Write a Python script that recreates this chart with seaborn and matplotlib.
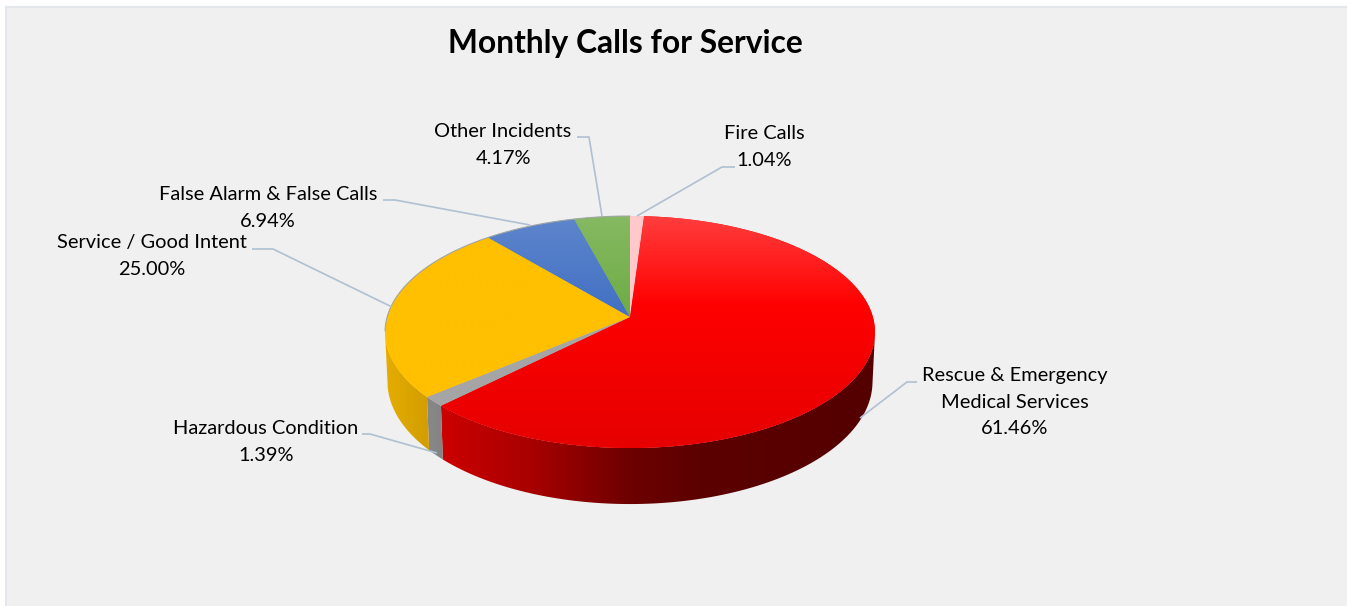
import numpy as np
import matplotlib
matplotlib.use("Agg")
import matplotlib.pyplot as plt
import seaborn as sns
from matplotlib.patches import Polygon, Rectangle
from matplotlib.path import Path
from matplotlib.transforms import Affine2D, Transform

# Chart data, in slice order clockwise from 12 o'clock
categories = [
    "Fire Calls",
    "Rescue & Emergency\nMedical Services",
    "Hazardous Condition",
    "Service / Good Intent",
    "False Alarm & False Calls",
    "Other Incidents",
]
shares = [1.04, 61.46, 1.39, 25.00, 6.94, 4.17]
slice_colors = ["#FFC9CC", "#FF0000", "#A5A5A5", "#FFC000", "#4472C4", "#70AD47"]
highlights = [0.0, 0.24, 0.0, 0.0, 0.14, 0.15]
shadows = [0.0, 0.1, 0.0, 0.0, 0.0, 0.0]
title = "Monthly Calls for Service"

# Label placement: text centre, then the leader line from the pie out to the text
label_xy = [(764, 147), (1015, 402), (266, 442), (152, 256), (268, 208), (503, 145)]
leaders = [
    [(637, 216), (722, 167), (735, 167)],
    [(860, 418), (907, 382), (917, 382)],
    [(437, 453), (370, 434), (362, 434)],
    [(392, 307), (273, 249), (252, 249)],
    [(530, 225), (395, 200), (383, 200)],
    [(602, 216), (589, 137), (577, 137)],
]

# Perspective of the pie top, in pixels
CX, CY = 630, 317
K = 0.1293
A, B = 114.06, 242.9
DEPTH = 48.8


def project(u, v):
    w = 1 + K * v
    return CX + B * u / w, CY - A * v / w


class PieProjection(Transform):
    """Tilts the unit circle that ax.pie draws on into the chart's perspective."""
    input_dims = 2
    output_dims = 2
    has_inverse = False

    def transform_non_affine(self, values):
        x, y = project(values[:, 0], values[:, 1])
        return np.column_stack([x, y])

    def transform_path_non_affine(self, path):
        polys = path.transformed(Affine2D().scale(2000)).to_polygons()
        return Path(self.transform_non_affine(np.vstack(polys) / 2000))


def wall_gradient(color):
    xs = np.linspace(380, 880, 500)
    shade = np.interp(xs, [385, 441, 530, 630, 700, 875], [0.9, 0.8, 0.66, 0.43, 0.36, 0.33])
    return (np.array(color)[None, :] * shade[:, None])[None, :, :]


def top_gradient(color, highlight, shadow):
    ys = np.linspace(216, 450, 240)
    light = highlight * np.clip(1 - (ys - 216) / 90, 0, 1)
    dark = 1 - shadow * np.clip((ys - 300) / 150, 0, 1)
    rgb = np.array(color)[None, :] * dark[:, None]
    rgb = rgb + (1 - rgb) * light[:, None]
    return rgb[:, None, :]


sns.set_theme(style="white")
plt.rcParams["font.family"] = ["Lato", "DejaVu Sans"]

palette = sns.color_palette(slice_colors)

fig = plt.figure(figsize=(13.47, 6.06), dpi=100, facecolor="white")
ax = fig.add_axes([0, 0, 1, 1])

wedges, _ = ax.pie(shares, colors=palette, startangle=90, counterclock=False,
                   wedgeprops=dict(linewidth=0))
ax.set_aspect("auto")
ax.set_frame_on(False)

ax.add_patch(Rectangle((5.5, 6.5), 1360, 620, facecolor="#F0F0F0", edgecolor="#E4E7EC",
                       linewidth=1.5, zorder=0))

tilt = PieProjection() + ax.transData
for wedge, color, highlight, shadow in zip(wedges, palette, highlights, shadows):
    # Side wall, only the part of the rim that faces the viewer
    angles = np.radians(np.linspace(wedge.theta1, wedge.theta2, 200))
    angles = angles[np.sin(angles) < -K]
    if len(angles) > 1:
        x, y = project(np.cos(angles), np.sin(angles))
        drop = DEPTH / (1 + K * np.sin(angles))
        x_low = CX + (x - CX) * 0.99
        outline = list(zip(x, y)) + list(zip(x_low[::-1], (y + drop)[::-1]))
        wall = ax.add_patch(Polygon(outline, closed=True, linewidth=0, facecolor="none", zorder=2))
        image = ax.imshow(wall_gradient(color), extent=(380, 880, 510, 300),
                          aspect="auto", interpolation="bilinear", zorder=2)
        image.set_clip_path(wall)

    # Top face with its light-to-dark gradient
    wedge.set_transform(tilt)
    wedge.set_zorder(3)
    image = ax.imshow(top_gradient(color, highlight, shadow), extent=(380, 880, 450, 216),
                      aspect="auto", interpolation="bilinear", zorder=4)
    image.set_clip_path(wedge)

ax.set_xlim(0, 1347)
ax.set_ylim(606, 0)

# Thin grey edge on the back left of the rim
back = np.radians(np.linspace(90, 187, 200))
ax.plot(*project(np.cos(back), np.sin(back)), color="#A3A6A8", linewidth=0.8, zorder=5)

for name, share, (tx, ty), leader in zip(categories, shares, label_xy, leaders):
    ax.text(tx, ty, f"{name}\n{share:.2f}%", ha="center", va="center", fontsize=14.4,
            linespacing=1.7, color="black", zorder=6)
    lx, ly = zip(*leader)
    ax.plot(lx, ly, color="#AFC0D2", linewidth=1.2, zorder=5, solid_capstyle="butt")

ax.text(625, 44, title, ha="center", va="center", fontsize=22.9, fontweight="bold",
        color="black", zorder=6)

fig.savefig("out.png", dpi=100, facecolor="white")
